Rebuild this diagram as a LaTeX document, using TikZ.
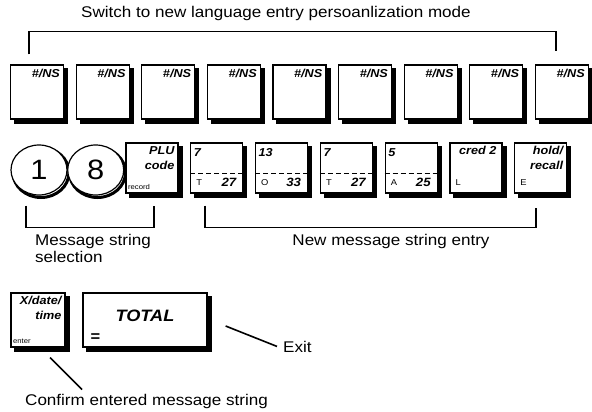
\documentclass[tikz,border=0pt]{standalone}
\usepackage{fontspec}
\setmainfont{Liberation Sans}[FakeStretch=1.1]
\usetikzlibrary{shapes.geometric, positioning, calc}

\tikzset{
  % Keyboard keys
  key/.style={
    rectangle, draw=black, fill=white, line width=1.2pt, inner sep=0pt,
    minimum width=52pt, minimum height=50pt,
  },
  numkey/.style={
    ellipse, draw=black, fill=white, line width=1.2pt, inner sep=0pt,
    minimum width=56pt, minimum height=50pt, font=\fontsize{28}{28}\selectfont,
  },
  shadowband/.style={draw=black, line width=4pt, line join=miter},
  numshadow/.style={draw=black, line width=3pt},
  % Legends printed on the keys
  keyne/.style={anchor=north east, inner xsep=4pt, inner ysep=3.5pt, align=right,
    font=\fontsize{11.5}{15}\selectfont\bfseries\itshape},
  keynw/.style={anchor=north west, inner xsep=3.5pt, inner ysep=6pt,
    font=\fontsize{11.5}{11.5}\selectfont\bfseries\itshape},
  keyse/.style={anchor=south east, inner xsep=7pt, inner ysep=6.5pt,
    font=\fontsize{12}{12}\selectfont\bfseries\itshape},
  keysw/.style={anchor=south west, inner xsep=6pt, inner ysep=7.5pt,
    font=\fontsize{8.5}{9}\selectfont},
  keysmall/.style={anchor=south west, inner xsep=2.5pt, inner ysep=4pt,
    font=\fontsize{7}{7}\selectfont},
  keydash/.style={dash pattern=on 5pt off 3pt, line width=0.8pt},
  % Annotations
  note/.style={font=\fontsize{15.5}{17}\selectfont, inner sep=0pt},
  bracket/.style={line width=1.6pt},
  pointer/.style={line width=1.6pt},
}

\begin{document}
\begin{tikzpicture}[x=1pt, y=-1pt]
  \useasboundingbox (0,0) rectangle (592,412);

  % Top row: #/NS pressed nine times
  \node[note, anchor=base] (title) at (276,18)
    {Switch to new language entry persoanlization mode};
  \node[key, minimum width=53pt, minimum height=54pt,
        label={[keyne, inner ysep=4.5pt]north east:\#/NS}] (top1) at (37,92) {};
  \foreach \i in {2,...,9}{
    \pgfmathtruncatemacro\prev{\i-1}
    \node[key, minimum width=53pt, minimum height=54pt, right=11.4pt of top\prev,
          label={[keyne, inner ysep=4.5pt]north east:\#/NS}] (top\i) {};
  }
  \draw[bracket] ($(top1.north)+(-8,-10)$) |- ($(top9.north)+(-6,-33)$)
    -- ($(top9.north)+(-6,-13)$);

  % Middle row: string number, PLU code, then the new text
  \draw[numshadow] (41,172.5) ellipse (28pt and 25pt);
  \draw[numshadow] (97.5,172.5) ellipse (28pt and 25pt);
  \node[numkey] (one) at (39,170) {1};
  \node[numkey, right=-0.5pt of one] (eight) {8};
  \node[key, label={[keyne]north east:{PLU\\code}},
        label={[keysmall]south west:record}] (plu) at (152,168) {};

  \node[key, right=11.6pt of plu,
        label={[keynw]north west:7}, label={[keysw]south west:T},
        label={[keyse]south east:27}] (chT) {};
  \node[key, right=11.6pt of chT,
        label={[keynw]north west:13}, label={[keysw]south west:O},
        label={[keyse]south east:33}] (chO) {};
  \node[key, right=11.6pt of chO,
        label={[keynw]north west:7}, label={[keysw]south west:T},
        label={[keyse]south east:27}] (chT2) {};
  \node[key, right=11.6pt of chT2,
        label={[keynw]north west:5}, label={[keysw]south west:A},
        label={[keyse]south east:25}] (chA) {};
  \node[key, right=11.6pt of chA,
        label={[keyne, inner xsep=6pt]north east:cred 2}, label={[keysw]south west:L}] (chL) {};
  \node[key, right=11.6pt of chL,
        label={[keyne]north east:{hold/\\recall}}, label={[keysw]south west:E}] (chE) {};

  \foreach \k in {chT, chO, chT2, chA}
    \draw[keydash] ([yshift=-5pt]\k.west) -- ([yshift=-5pt]\k.east);

  \draw[bracket] ($(one.south)+(-13,10)$) |- ($(plu.south)+(2,34)$)
    -- ($(plu.south)+(2,12)$);
  \draw[bracket] ($(chT.south)+(-12,12)$) |- ($(chE.south)+(-5,34)$)
    -- ($(chE.south)+(-5,14)$);

  \node[note, align=left, anchor=north west] (select) at (35,234)
    {Message string\\selection};
  \node[note, anchor=base] (entry) at (391,245) {New message string entry};

  % Bottom row: confirm and exit
  \node[key, minimum width=54pt, minimum height=54pt,
        label={[keyne]north east:{X/date/\\time}},
        label={[keysmall]south west:enter}] (xkey) at (38,320) {};
  \node[key, minimum width=124pt, minimum height=54pt, right=16.8pt of xkey,
        label={[anchor=center, yshift=4pt, font=\fontsize{16.5}{17}\selectfont\bfseries\itshape]center:TOTAL},
        label={[anchor=south west, inner xsep=8pt, inner ysep=6pt, font=\fontsize{15}{15}\selectfont\bfseries]south west:=}] (total) {};

  \node[note, anchor=base west] (exit) at (283,352) {Exit};
  \node[note, anchor=base west] (confirm) at (25,405) {Confirm entered message string};

  \draw[pointer] ($(total.east)+(18,6)$) -- ($(exit.west)+(-6,0)$);
  \draw[pointer] ($(xkey.south)+(12,10)$) -- ($(confirm.north west)+(57,-4)$);

  % Shadow bands along the right and lower sides of the keys
  \foreach \k in {top1,top2,top3,top4,top5,top6,top7,top8,top9,plu,chT,chO,chT2,chA,chL,chE,xkey,total}{
    \draw[shadowband] ($(\k.north east)+(2,4)$) -- ($(\k.south east)+(2,2)$)
      -- ($(\k.south west)+(4,2)$);
  }
\end{tikzpicture}
\end{document}
